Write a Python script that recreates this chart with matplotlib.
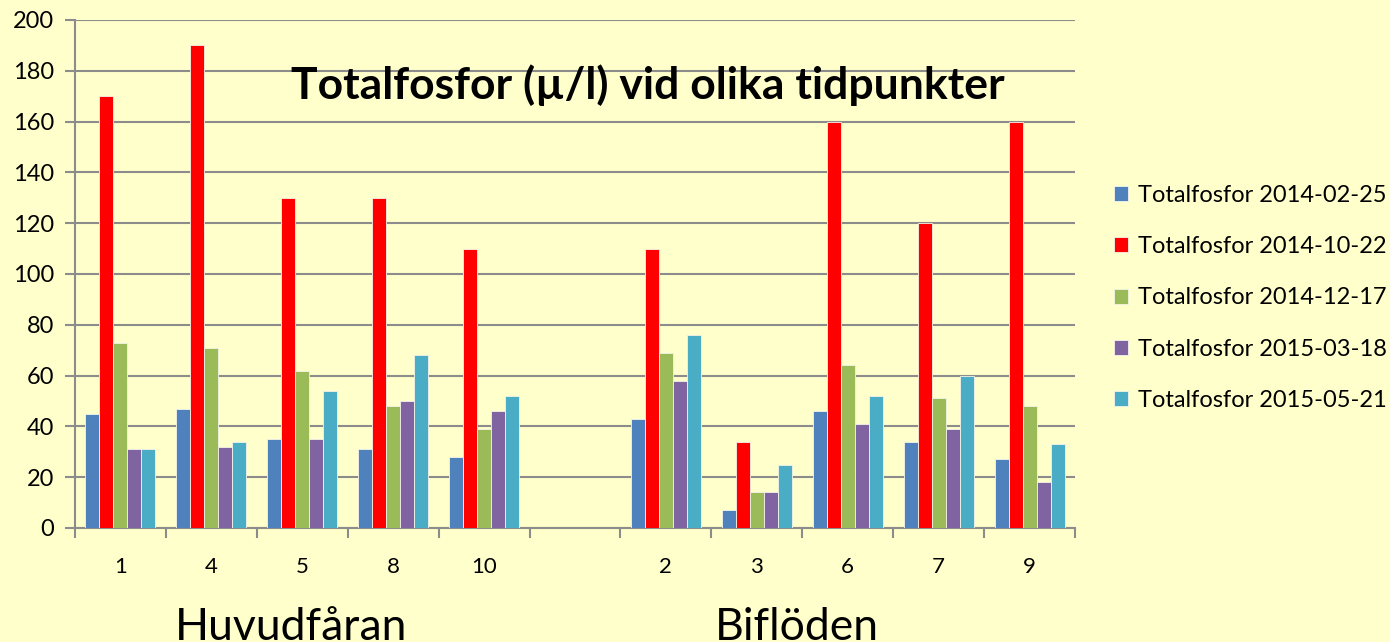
import numpy as np
import matplotlib.pyplot as plt

plt.rcParams["font.family"] = ["Lato", "DejaVu Sans"]

# station labels, empty slot separates main stream and tributaries
stations = ["1", "4", "5", "8", "10", "", "2", "3", "6", "7", "9"]
nan = np.nan

series_labels = [
    "Totalfosfor 2014-02-25",
    "Totalfosfor 2014-10-22",
    "Totalfosfor 2014-12-17",
    "Totalfosfor 2015-03-18",
    "Totalfosfor 2015-05-21",
]
tp_2014_02_25 = [45, 47, 35, 31, 28, nan, 43, 7, 46, 34, 27]
tp_2014_10_22 = [170, 190, 130, 130, 110, nan, 110, 34, 160, 120, 160]
tp_2014_12_17 = [73, 71, 62, 48, 39, nan, 69, 14, 64, 51, 48]
tp_2015_03_18 = [31, 32, 35, 50, 46, nan, 58, 14, 41, 39, 18]
tp_2015_05_21 = [31, 34, 54, 68, 52, nan, 76, 25, 52, 60, 33]

series = [tp_2014_02_25, tp_2014_10_22, tp_2014_12_17, tp_2015_03_18, tp_2015_05_21]
colors = ["#4F81BD", "#FF0000", "#9BBB59", "#8064A2", "#4BACC6"]

bg = "#FFFFCC"
grid_col = "#8C8C8C"

fig = plt.figure(figsize=(13.9, 6.42), dpi=100, facecolor=bg)
ax = fig.add_axes([75 / 1390, 1 - 528 / 642, 1000 / 1390, 508 / 642])
ax.set_facecolor(bg)

x = np.arange(len(stations))
width = 0.154
for i, (vals, col, lab) in enumerate(zip(series, colors, series_labels)):
    offs = (i - 2) * width
    ax.bar(x + offs, vals, width, color=col, edgecolor="#F4F4E8",
           linewidth=0.6, label=lab, zorder=3)

ax.set_xlim(-0.5, len(stations) - 0.5)
ax.set_ylim(0, 200)
ax.set_yticks(np.arange(0, 201, 20))
ax.yaxis.grid(True, color=grid_col, linewidth=1.5, zorder=0)
ax.set_axisbelow(True)

# tick marks on category boundaries, labels centred in each category
ax.set_xticks(np.arange(len(stations) + 1) - 0.5)
ax.set_xticklabels([])
ax.set_xticks(x, minor=True)
ax.set_xticklabels(stations, minor=True, fontsize=16)
ax.tick_params(axis="x", which="major", length=7, width=1.5, color=grid_col)
ax.tick_params(axis="x", which="minor", length=0, pad=21)
ax.tick_params(axis="y", length=7, width=1.5, color=grid_col, labelsize=17, pad=8)

for side in ["top", "right"]:
    ax.spines[side].set_visible(False)
for side in ["left", "bottom"]:
    ax.spines[side].set_color(grid_col)
    ax.spines[side].set_linewidth(1.5)

fig.text(648 / 1390, 1 - 85 / 642, "Totalfosfor (µ/l) vid olika tidpunkter",
         ha="center", va="center", fontsize=32, fontweight="bold")

# group names under the two halves of the axis
fig.text(291 / 1390, 1 - 640 / 642, "Huvudfåran", ha="center", va="baseline", fontsize=32)
fig.text(797 / 1390, 1 - 640 / 642, "Biflöden", ha="center", va="baseline", fontsize=32)

handles, labels = ax.get_legend_handles_labels()
fig.legend(handles, labels, loc="center left",
           bbox_to_anchor=(1114 / 1390, 1 - 298 / 642),
           frameon=False, fontsize=17, handlelength=0.6, handleheight=0.6,
           handletextpad=0.4, labelspacing=1.28, borderpad=0, borderaxespad=0)

fig.savefig("out.png", dpi=100, facecolor=bg)
